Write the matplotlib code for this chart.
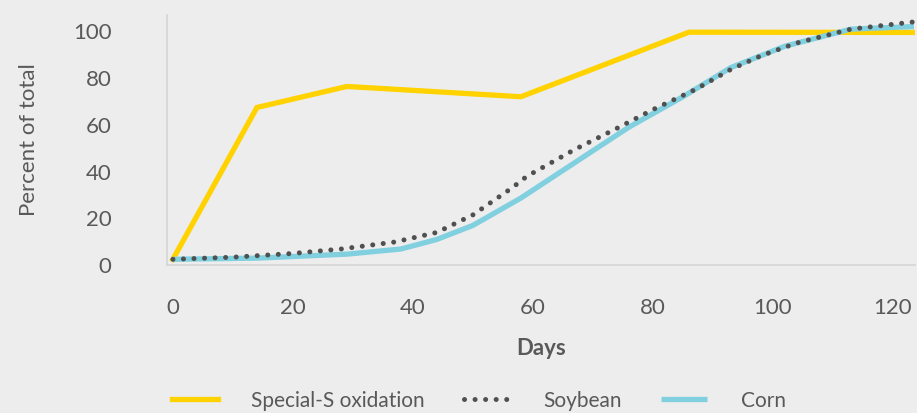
import numpy as np
import matplotlib.pyplot as plt

plt.rcParams['font.family'] = ['Lato', 'DejaVu Sans']

# readings
sulfur_days = [0, 14, 29, 58, 86, 123.5]
sulfur_pct = [2.5, 67.4, 76.4, 72, 99.6, 99.5]

soy_days = [0, 10, 20, 28, 37, 44, 50, 56.5, 59, 67, 74, 80, 87, 93, 98, 104, 113, 123.5]
soy_pct = [2.5, 3.4, 5, 6.9, 9.9, 14, 21.5, 33, 38, 49.5, 58.5, 66.5, 75, 83.7, 89.5, 95, 100.9, 104]

corn_days = [0, 14, 29, 38, 44, 50, 58, 65, 71, 76, 85, 93, 102, 113, 123.5]
corn_pct = [2.5, 3, 4.7, 6.9, 11, 17, 28.7, 40.5, 50.6, 59, 72, 84.5, 93.6, 100.9, 102]

xticks = [0, 20, 40, 60, 80, 100, 120]
yticks = [0, 20, 40, 60, 80, 100]

bg = '#ededed'
txt = '#595959'

fig = plt.figure(figsize=(9.17, 4.13), dpi=100, facecolor=bg)
ax = fig.add_axes([0.182, 0.358, 0.816, 0.606], facecolor=bg)

ax.plot(sulfur_days, sulfur_pct, color='#ffd200', lw=3.8, solid_joinstyle='miter',
        label='Special-S oxidation', zorder=2)
ax.plot(corn_days, corn_pct, color='#80d0e0', lw=3.8, solid_capstyle='butt',
        solid_joinstyle='round', label='Corn', zorder=3)
ax.plot(soy_days, soy_pct, color='#505050', lw=3.6, linestyle=(0, (0.01, 2.1)),
        dash_capstyle='round', label='Soybean', zorder=4)

ax.set_xlim(-1, 123.7)
ax.set_ylim(0, 107)
ax.set_xticks(xticks)
ax.set_yticks(yticks)
ax.tick_params(length=0, labelsize=16, colors=txt)
ax.tick_params(axis='x', pad=24)
ax.tick_params(axis='y', pad=40)

for s in ['top', 'right']:
    ax.spines[s].set_visible(False)
for s in ['left', 'bottom']:
    ax.spines[s].set_color('#d6d6d6')
    ax.spines[s].set_linewidth(1.2)

ax.set_xlabel('Days', fontsize=16, color=txt, fontweight='bold', labelpad=14)
ax.set_ylabel('Percent of total', fontsize=16, color=txt, labelpad=24)

h, l = ax.get_legend_handles_labels()
order = [0, 2, 1]
fig.legend([h[i] for i in order], [l[i] for i in order], loc='center',
           bbox_to_anchor=(0.522, 0.03), ncol=3, frameon=False, fontsize=15,
           labelcolor=txt, handlelength=2.2, handletextpad=1.6, columnspacing=1.9)

plt.savefig('out.png', dpi=100, facecolor=bg)
